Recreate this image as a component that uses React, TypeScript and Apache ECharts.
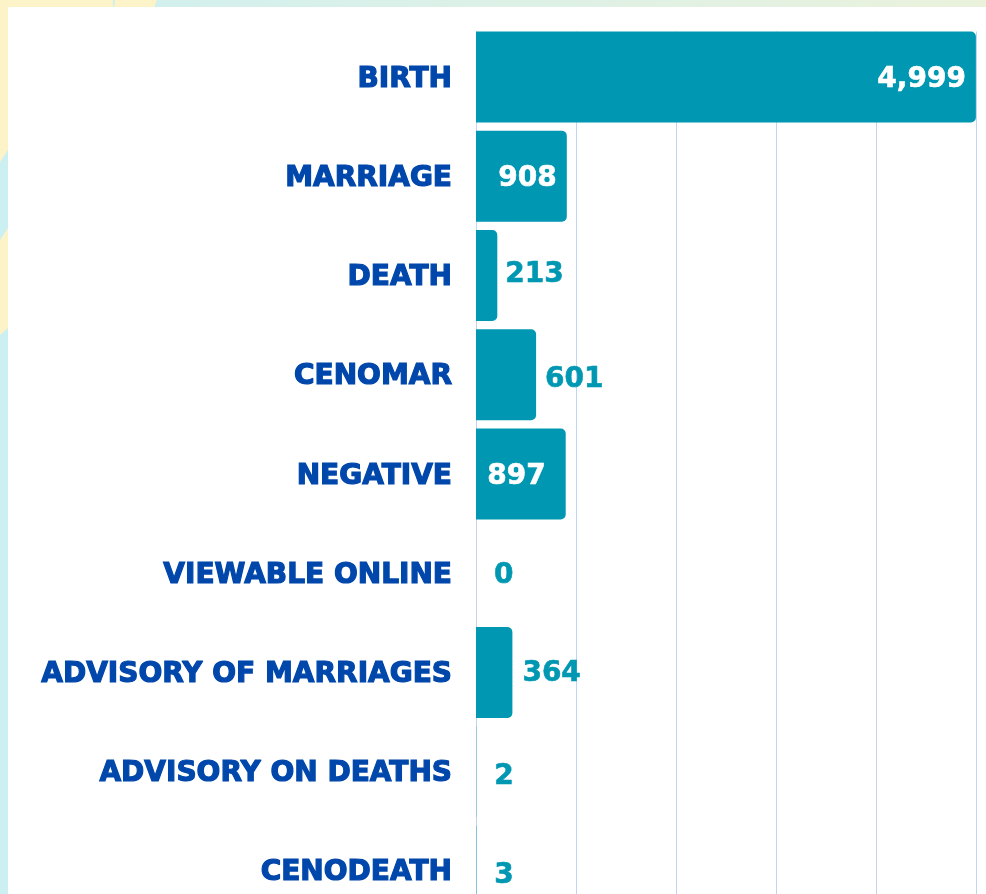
import React, { useEffect, useRef } from "react";
import * as echarts from "echarts";

const categories = [
  "BIRTH",
  "MARRIAGE",
  "DEATH",
  "CENOMAR",
  "NEGATIVE",
  "VIEWABLE ONLINE",
  "ADVISORY OF MARRIAGES",
  "ADVISORY ON DEATHS",
  "CENODEATH",
];
const values = [4999, 908, 213, 601, 897, 0, 364, 2, 3];
const labelInside = [true, true, false, false, true, false, false, false, false];
const labelDistance = [10, 10, 8, 9, 20, 18, 10, 18, 18];
const labelShiftY = [0, 0, -3, 3, 0, 0, -1, 3, 3];

const axisMax = 5000;
const axisStep = 1000;

const BAR = "#0097B2";
const CAT = "#0047AB";
const YELLOW = "#FCF3C8";
const CYAN = "#CCEFF1";
const FONT = "DejaVu Sans";

export default function App() {
  const ref = useRef<HTMLDivElement>(null);
  useEffect(() => {
    if (!ref.current) return;
    const chart = echarts.init(ref.current, null, { renderer: "svg" });
    const data = values.map((v, i) => {
      const c = labelInside[i] ? "#FFFFFF" : BAR;
      return {
        value: v,
        label: {
          show: true,
          position: labelInside[i] ? "insideRight" : "right",
          distance: labelDistance[i],
          offset: [0, labelShiftY[i]],
          color: c,
          textBorderColor: c,
          textBorderWidth: 0.6,
        },
      };
    });
    chart.setOption({
      animation: false,
      backgroundColor: "transparent",
      graphic: [
        { type: "rect", z: -10, shape: { x: 0, y: 0, width: 986, height: 940 }, style: { fill: CYAN } },
        { type: "rect", z: -9, shape: { x: 0, y: 0, width: 113, height: 8 }, style: { fill: YELLOW } },
        { type: "polygon", z: -9, shape: { points: [[115, 0], [157, 0], [154, 8], [114, 8]] }, style: { fill: YELLOW } },
        {
          type: "rect",
          z: -9,
          shape: { x: 157, y: 0, width: 829, height: 8 },
          style: {
            fill: new echarts.graphic.LinearGradient(0, 0, 1, 0, [
              { offset: 0, color: "#D3F0EE" },
              { offset: 1, color: "#EAF2DC" },
            ]),
          },
        },
        { type: "polygon", z: -9, shape: { points: [[0, 0], [8, 0], [8, 150], [0, 162]] }, style: { fill: YELLOW } },
        { type: "polygon", z: -9, shape: { points: [[0, 240], [8, 228], [8, 328], [0, 335]] }, style: { fill: YELLOW } },
        { type: "rect", z: -8, shape: { x: 8, y: 7, width: 978, height: 933 }, style: { fill: "#FFFFFF" } },
        { type: "rect", z: 1, shape: { x: 470, y: 7, width: 516, height: 24.5 }, style: { fill: "#FFFFFF" } },
      ],
      grid: { left: 476, right: 10, top: 27.4, bottom: 9.4, containLabel: false },
      xAxis: {
        type: "value",
        min: 0,
        max: axisMax,
        interval: axisStep,
        axisLabel: { show: false },
        axisLine: { show: false },
        axisTick: { show: false },
        splitLine: { show: true, lineStyle: { color: "#C3D4EE", width: 1 } },
      },
      yAxis: {
        type: "category",
        inverse: true,
        data: categories,
        axisLine: { show: false },
        axisTick: { show: false },
        axisLabel: {
          margin: 24,
          color: CAT,
          fontFamily: FONT,
          fontWeight: "bold",
          fontSize: 28,
          textBorderColor: CAT,
          textBorderWidth: 1.2,
        },
      },
      series: [
        {
          type: "bar",
          z: 2,
          data,
          barWidth: 91,
          itemStyle: { color: BAR, borderRadius: [0, 5, 5, 0] },
          label: {
            show: true,
            fontFamily: FONT,
            fontWeight: "bold",
            fontSize: 28,
            formatter: (p: any) => Number(p.value).toLocaleString("en-US"),
          },
        },
      ],
    });
    return () => chart.dispose();
  }, []);
  return (
    <div
      style={{
        position: "fixed",
        left: 0,
        top: 0,
        width: 986,
        height: 894,
        overflow: "hidden",
      }}
    >
      <div ref={ref} style={{ width: 986, height: 930 }} />
    </div>
  );
}
